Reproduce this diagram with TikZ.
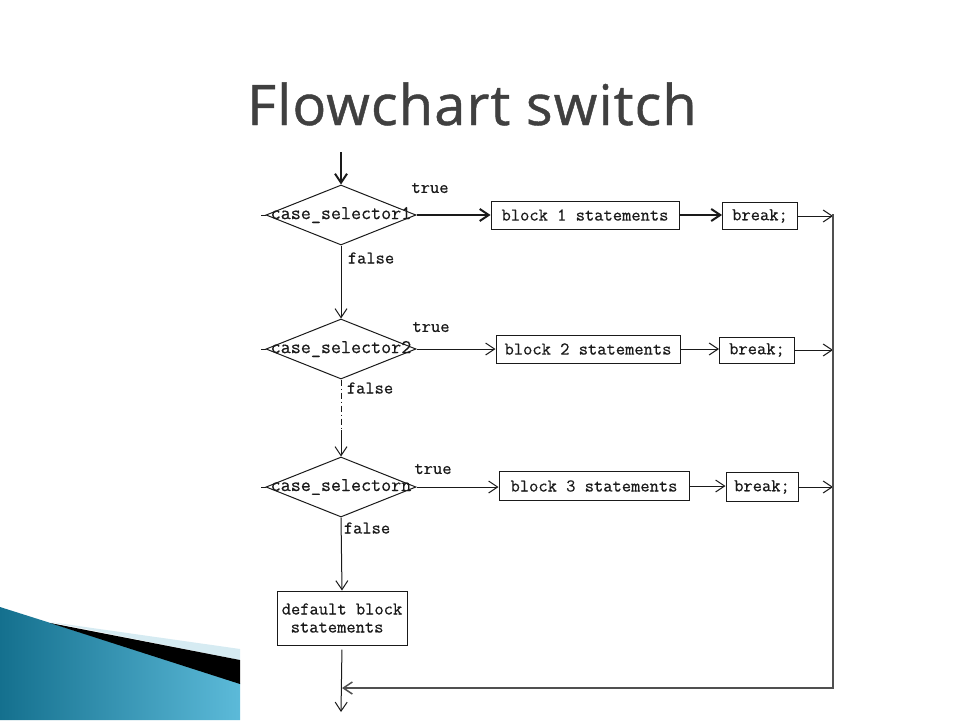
\documentclass[tikz,border=0pt]{standalone}
\usepackage{fontspec}
\newfontfamily\titlefont[FakeBold=0.8,LetterSpace=2]{Open Sans}
\newfontfamily\codefont[FakeBold=0.5]{Latin Modern Mono}
\usetikzlibrary{arrows.meta,shapes.geometric}
\definecolor{titlegray}{HTML}{404040}
\definecolor{inkc}{HTML}{1A1A1A}
\definecolor{railc}{HTML}{505050}
\definecolor{wedgedark}{HTML}{14708E}
\definecolor{wedgelight}{HTML}{5CBAD9}
\definecolor{wedgepale}{HTML}{D6EBF2}
\begin{document}
\begin{tikzpicture}[x=1pt,y=-1pt,
  >={Straight Barb[length=9pt,width=12pt]},
  conn/.style={draw=inkc,line width=1pt,->},
  heavy/.style={draw=inkc,line width=2pt,->},
  dec/.style={diamond,draw=inkc,line width=1pt,minimum width=150pt,minimum height=60pt,inner sep=0pt},
  dtext/.style={font=\codefont\fontsize{19.5}{19.5}\selectfont,text=inkc,inner sep=0pt},
  lbl/.style={font=\codefont\fontsize{18}{18}\selectfont,text=inkc,inner sep=0pt},
  stmt/.style={draw=inkc,line width=1pt,rectangle,font=\codefont\fontsize{18}{18}\selectfont,text=inkc,inner sep=0pt},
  railst/.style={draw=railc,line width=1.5pt}
]
\useasboundingbox (0,0) rectangle (960,720);
\fill[white] (0,0) rectangle (960,720);
% decorative wedge
\shade[left color=wedgedark,right color=wedgelight] (0,607) -- (240,683) -- (240,720) -- (0,720) -- cycle;
\fill[wedgepale] (50,622) -- (240,649) -- (240,660) -- cycle;
\fill[black] (50,623) -- (240,660) -- (240,684) -- cycle;
% title
\node[font=\titlefont\fontsize{56}{56}\selectfont,text=titlegray] (title) at (472,104) {Flowchart switch};
% decisions
\node[dec] (d1) at (341,215) {};
\node[dtext] (d1t) at (d1) {case\_selector1};
\node[dec] (d2) at (341,349) {};
\node[dtext] (d2t) at (d2) {case\_selector2};
\node[dec] (d3) at (341,487) {};
\node[dtext] (d3t) at (d3) {case\_selectorn};
% statement boxes
\node[stmt,minimum width=188pt,minimum height=28pt] (b1) at (585,215) {block 1 statements};
\node[stmt,minimum width=75pt,minimum height=27pt] (k1) at (760,216) {break;};
\node[stmt,minimum width=184pt,minimum height=28pt] (b2) at (588,349) {block 2 statements};
\node[stmt,minimum width=75pt,minimum height=26pt] (k2) at (757,350) {break;};
\node[stmt,minimum width=190pt,minimum height=29pt] (b3) at (594,486) {block 3 statements};
\node[stmt,minimum width=72pt,minimum height=29pt] (k3) at (762,487) {break;};
\node[stmt,minimum width=130pt,minimum height=54pt,align=left] (def) at (342,618) {default block\\\hspace*{9pt}statements};
% labels
\node[lbl] (t1) at (430,188) {true};
\node[lbl] (t2) at (431,327) {true};
\node[lbl] (t3) at (433,469) {true};
\node[lbl] (f1) at (371,258) {false};
\node[lbl] (f2) at (370,388) {false};
\node[lbl] (f3) at (367,528) {false};
% coordinates
\coordinate (entry) at (341,152);
\coordinate (mid) at (341,430);
\coordinate (rtop) at (833,214);
\coordinate (rbot) at (833,688);
\coordinate (exit) at (341,712);
% small ticks at left vertices
\draw[draw=inkc,line width=1pt] (d1.west) -- ++(-5,0);
\draw[draw=inkc,line width=1pt] (d2.west) -- ++(-5,0);
\draw[draw=inkc,line width=1pt] (d3.west) -- ++(-5,0);
% connectors
\draw[heavy] (entry) -- (d1.north);
\draw[heavy] (d1.east) -- (d1.east -| b1.west);
\draw[heavy] (b1.east) -- (b1.east -| k1.west);
\draw[conn] (d1.south) -- (d2.north);
\draw[conn] (d2.east) -- (d2.east -| b2.west);
\draw[conn] (b2.east) -- (b2.east -| k2.west);
\draw[draw=inkc,line width=1pt,dash pattern=on 6pt off 3pt on 1pt off 3pt] (d2.south) -- (mid);
\draw[conn] (mid) -- (d3.north);
\draw[conn] (d3.east) -- (d3.east -| b3.west);
\draw[conn] (b3.east) -- (b3.east -| k3.west);
\draw[conn] (d3.south) -- (def.north);
\draw[conn,shorten <=4pt] (def.south) -- (exit);
\draw[conn] (k1.east) -- (k1.east -| rtop);
\draw[conn] (k2.east) -- (k2.east -| rtop);
\draw[conn] (k3.east) -- (k3.east -| rtop);
\draw[railst,->] (rtop) -- (rbot) -- (rbot -| def.south);
\end{tikzpicture}
\end{document}
